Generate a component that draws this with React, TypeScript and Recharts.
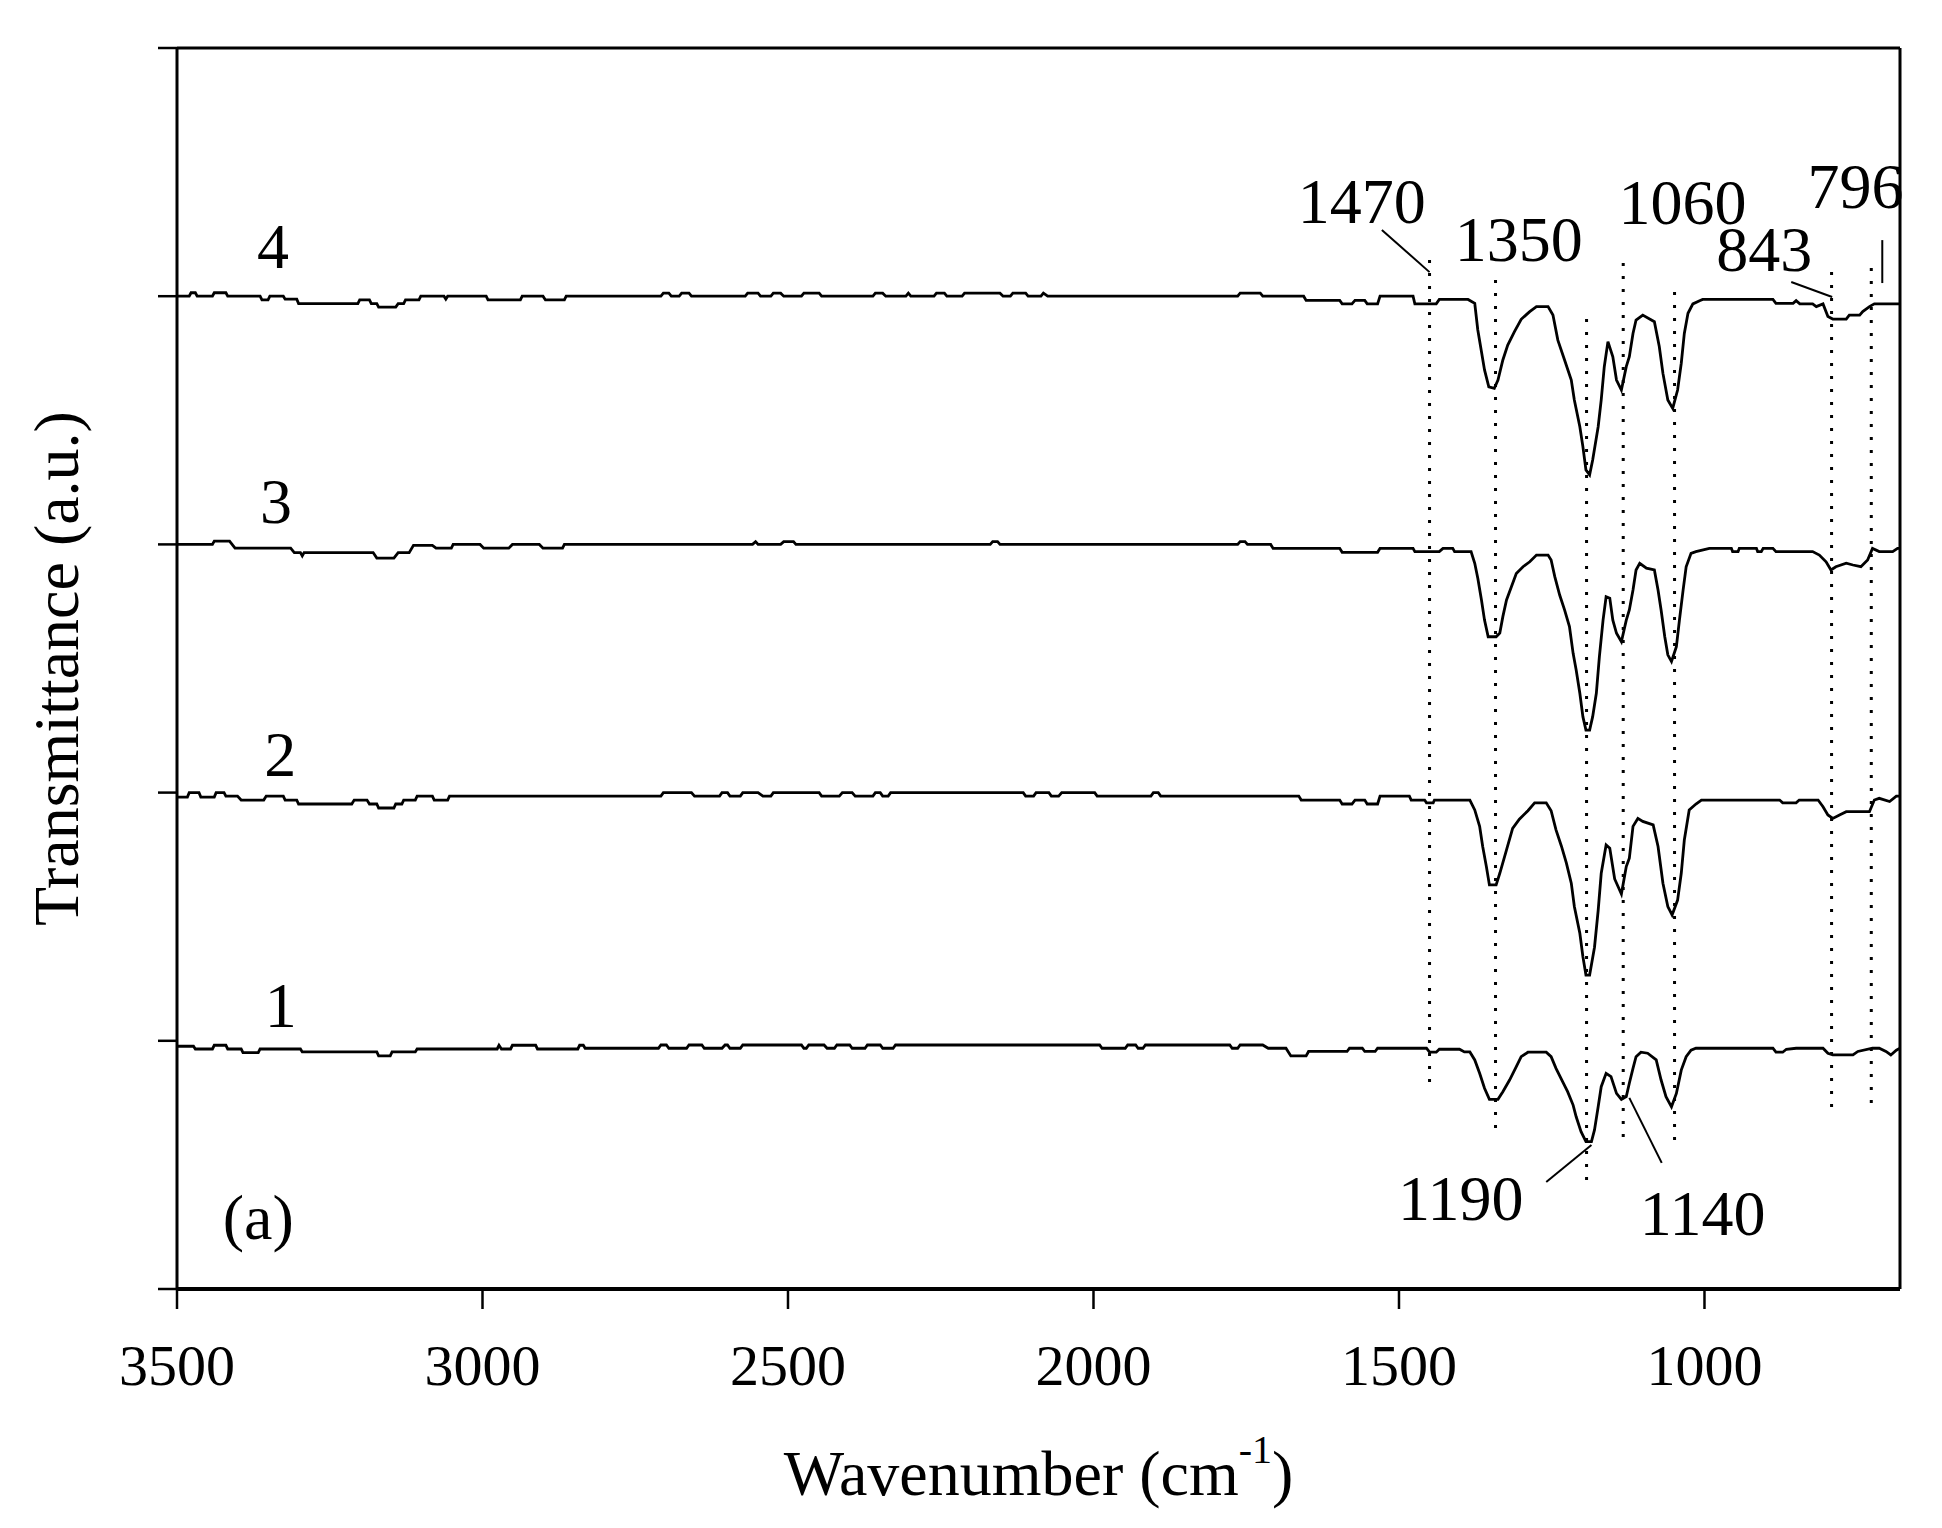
import React from 'react';
import { LineChart, Line, XAxis, YAxis, ReferenceLine, ReferenceDot } from 'recharts';

// FTIR spectra (a), four stacked traces
const FONT = '"Liberation Serif", "Times New Roman", serif';

const X_TICKS = [3500, 3000, 2500, 2000, 1500, 1000];
const Y_TICKS = [0, 1, 2, 3, 4, 5];
const X_DOMAIN = [680, 3500];

// [wavenumber, transmittance offset] pairs per trace
const CURVE_4 = [
  [3500, 4.0], [3480, 4.0], [3477, 4.014], [3470, 4.014], [3467, 4.0], [3442, 4.0], [3439, 4.014], [3420, 4.014],
  [3417, 4.0], [3364, 4.0], [3361, 3.985], [3351, 3.985], [3348, 4.0], [3326, 4.0], [3323, 3.988], [3304, 3.988],
  [3301, 3.97], [3204, 3.97], [3201, 3.985], [3185, 3.985], [3182, 3.97], [3173, 3.97], [3170, 3.956], [3142, 3.956],
  [3138, 3.97], [3129, 3.97], [3126, 3.985], [3104, 3.985], [3101, 4.0], [3063, 4.0], [3060, 3.988], [3057, 4.0],
  [2994, 4.0], [2991, 3.985], [2938, 3.985], [2935, 4.0], [2901, 4.0], [2897, 3.985], [2866, 3.985], [2863, 4.0],
  [2708, 4.0], [2704, 4.012], [2695, 4.012], [2691, 4.0], [2678, 4.0], [2674, 4.012], [2662, 4.012], [2658, 4.0],
  [2570, 4.0], [2566, 4.012], [2549, 4.012], [2545, 4.0], [2528, 4.0], [2524, 4.012], [2512, 4.012], [2507, 4.0],
  [2478, 4.0], [2474, 4.012], [2449, 4.012], [2445, 4.0], [2361, 4.0], [2357, 4.012], [2345, 4.012], [2340, 4.0],
  [2307, 4.0], [2303, 4.012], [2299, 4.0], [2261, 4.0], [2257, 4.012], [2244, 4.012], [2240, 4.0], [2215, 4.0],
  [2211, 4.012], [2153, 4.012], [2148, 4.0], [2136, 4.0], [2132, 4.012], [2111, 4.012], [2107, 4.0], [2086, 4.0],
  [2082, 4.012], [2075, 4.0], [1764, 4.0], [1760, 4.012], [1727, 4.012], [1723, 4.0], [1656, 4.0], [1652, 3.983],
  [1597, 3.983], [1593, 3.969], [1577, 3.969], [1572, 3.983], [1556, 3.983], [1552, 3.969], [1535, 3.969], [1531, 4.0],
  [1477, 4.0], [1474, 3.969], [1439, 3.969], [1434, 3.987], [1387, 3.987], [1376, 3.971], [1371, 3.864], [1365, 3.776],
  [1360, 3.703], [1353, 3.635], [1344, 3.629], [1338, 3.662], [1330, 3.743], [1322, 3.803], [1311, 3.857], [1300, 3.907],
  [1286, 3.938], [1275, 3.958], [1256, 3.958], [1248, 3.924], [1240, 3.823], [1229, 3.743], [1218, 3.662], [1213, 3.582],
  [1204, 3.474], [1199, 3.394], [1194, 3.3], [1188, 3.28], [1183, 3.34], [1174, 3.474], [1169, 3.582], [1164, 3.716],
  [1158, 3.817], [1150, 3.756], [1144, 3.662], [1136, 3.622], [1128, 3.716], [1123, 3.756], [1117, 3.85], [1112, 3.904],
  [1101, 3.924], [1082, 3.897], [1074, 3.797], [1068, 3.689], [1060, 3.582], [1052, 3.548], [1044, 3.622], [1038, 3.73],
  [1033, 3.85], [1027, 3.931], [1019, 3.969], [1008, 3.982], [1003, 3.987], [888, 3.987], [883, 3.971], [855, 3.971],
  [850, 3.982], [844, 3.969], [823, 3.969], [817, 3.958], [806, 3.969], [798, 3.918], [790, 3.908], [768, 3.908],
  [763, 3.924], [746, 3.924], [741, 3.938], [730, 3.958], [722, 3.969], [680, 3.969],
];

const CURVE_3 = [
  [3500, 3.0], [3442, 3.0], [3439, 3.013], [3414, 3.013], [3405, 2.985], [3314, 2.985], [3308, 2.967], [3298, 2.967],
  [3295, 2.954], [3292, 2.967], [3179, 2.967], [3173, 2.945], [3145, 2.945], [3138, 2.967], [3120, 2.967], [3113, 2.996],
  [3082, 2.996], [3076, 2.985], [3051, 2.985], [3048, 3.0], [3004, 3.0], [2998, 2.985], [2957, 2.985], [2951, 3.0],
  [2907, 3.0], [2901, 2.985], [2869, 2.985], [2866, 3.0], [2558, 3.0], [2553, 3.011], [2549, 3.0], [2512, 3.0],
  [2507, 3.011], [2491, 3.011], [2487, 3.0], [2169, 3.0], [2165, 3.011], [2157, 3.011], [2153, 3.0], [1764, 3.0],
  [1760, 3.011], [1752, 3.011], [1748, 3.0], [1710, 3.0], [1706, 2.984], [1597, 2.984], [1593, 2.968], [1535, 2.968],
  [1531, 2.984], [1477, 2.984], [1474, 2.971], [1434, 2.971], [1428, 2.984], [1412, 2.984], [1409, 2.971], [1382, 2.971],
  [1376, 2.924], [1371, 2.864], [1365, 2.776], [1360, 2.695], [1354, 2.628], [1341, 2.628], [1335, 2.643], [1330, 2.709],
  [1324, 2.776], [1316, 2.829], [1308, 2.883], [1297, 2.91], [1286, 2.93], [1275, 2.957], [1256, 2.957], [1251, 2.937],
  [1245, 2.87], [1237, 2.796], [1229, 2.736], [1221, 2.669], [1215, 2.561], [1210, 2.494], [1204, 2.4], [1199, 2.306],
  [1194, 2.252], [1188, 2.252], [1183, 2.306], [1177, 2.4], [1172, 2.548], [1166, 2.695], [1161, 2.789], [1155, 2.783],
  [1150, 2.695], [1144, 2.642], [1136, 2.608], [1128, 2.695], [1123, 2.736], [1117, 2.816], [1112, 2.897], [1106, 2.924],
  [1095, 2.904], [1082, 2.897], [1076, 2.816], [1071, 2.736], [1065, 2.628], [1060, 2.555], [1054, 2.528], [1046, 2.588],
  [1041, 2.695], [1035, 2.816], [1030, 2.91], [1022, 2.964], [1014, 2.971], [992, 2.984], [956, 2.984], [954, 2.971],
  [945, 2.971], [943, 2.984], [915, 2.984], [913, 2.971], [907, 2.971], [904, 2.984], [888, 2.984], [883, 2.971],
  [823, 2.971], [812, 2.957], [801, 2.93], [793, 2.897], [785, 2.91], [768, 2.924], [757, 2.917], [744, 2.91],
  [733, 2.937], [725, 2.984], [714, 2.971], [692, 2.971], [684, 2.984], [680, 2.984],
];

const CURVE_2 = [
  [3500, 1.982], [3483, 1.982], [3480, 2.0], [3464, 2.0], [3461, 1.982], [3439, 1.982], [3436, 2.0], [3423, 2.0],
  [3420, 1.986], [3401, 1.986], [3395, 1.97], [3358, 1.97], [3354, 1.986], [3326, 1.986], [3323, 1.97], [3304, 1.97],
  [3301, 1.954], [3214, 1.954], [3210, 1.97], [3189, 1.97], [3185, 1.954], [3173, 1.954], [3170, 1.938], [3145, 1.938],
  [3142, 1.954], [3132, 1.954], [3129, 1.97], [3110, 1.97], [3107, 1.986], [3082, 1.986], [3079, 1.97], [3057, 1.97],
  [3054, 1.986], [2708, 1.986], [2704, 2.0], [2658, 2.0], [2653, 1.986], [2612, 1.986], [2608, 2.0], [2599, 2.0],
  [2595, 1.986], [2578, 1.986], [2574, 2.0], [2549, 2.0], [2541, 1.986], [2528, 1.986], [2524, 2.0], [2449, 2.0],
  [2445, 1.986], [2416, 1.986], [2411, 2.0], [2395, 2.0], [2390, 1.986], [2361, 1.986], [2357, 2.0], [2349, 2.0],
  [2345, 1.986], [2336, 1.986], [2332, 2.0], [2115, 2.0], [2111, 1.986], [2098, 1.986], [2094, 2.0], [2073, 2.0],
  [2069, 1.986], [2057, 1.986], [2052, 2.0], [1998, 2.0], [1994, 1.986], [1906, 1.986], [1902, 2.0], [1894, 2.0],
  [1890, 1.986], [1664, 1.986], [1660, 1.97], [1597, 1.97], [1593, 1.954], [1577, 1.954], [1572, 1.97], [1556, 1.97],
  [1552, 1.954], [1535, 1.954], [1531, 1.986], [1483, 1.986], [1480, 1.97], [1458, 1.97], [1455, 1.959], [1444, 1.959],
  [1442, 1.97], [1384, 1.97], [1376, 1.93], [1368, 1.864], [1363, 1.783], [1357, 1.702], [1352, 1.628], [1341, 1.628],
  [1335, 1.675], [1324, 1.769], [1314, 1.856], [1303, 1.893], [1289, 1.927], [1278, 1.959], [1259, 1.959], [1251, 1.927],
  [1243, 1.85], [1234, 1.783], [1226, 1.716], [1218, 1.635], [1213, 1.541], [1204, 1.433], [1199, 1.339], [1194, 1.265],
  [1188, 1.265], [1180, 1.377], [1174, 1.525], [1169, 1.675], [1161, 1.789], [1155, 1.776], [1147, 1.652], [1136, 1.591],
  [1128, 1.702], [1123, 1.736], [1117, 1.864], [1109, 1.896], [1101, 1.884], [1084, 1.87], [1076, 1.783], [1068, 1.635],
  [1060, 1.541], [1053, 1.507], [1044, 1.567], [1038, 1.675], [1033, 1.809], [1025, 1.93], [1014, 1.954], [1005, 1.97],
  [877, 1.97], [872, 1.959], [850, 1.959], [845, 1.97], [814, 1.97], [806, 1.943], [798, 1.91], [790, 1.896],
  [779, 1.91], [768, 1.923], [730, 1.923], [722, 1.97], [714, 1.977], [697, 1.964], [686, 1.986], [680, 1.986],
];

const CURVE_1 = [
  [3500, 0.978], [3473, 0.978], [3470, 0.967], [3442, 0.967], [3439, 0.982], [3420, 0.982], [3417, 0.967], [3395, 0.967],
  [3392, 0.952], [3367, 0.952], [3364, 0.967], [3298, 0.967], [3295, 0.955], [3173, 0.955], [3170, 0.939], [3151, 0.939],
  [3148, 0.955], [3110, 0.955], [3107, 0.967], [2976, 0.967], [2973, 0.982], [2969, 0.967], [2954, 0.967], [2951, 0.982],
  [2913, 0.982], [2910, 0.967], [2844, 0.967], [2841, 0.982], [2835, 0.982], [2832, 0.97], [2712, 0.97], [2708, 0.983],
  [2699, 0.983], [2695, 0.97], [2666, 0.97], [2662, 0.983], [2641, 0.983], [2637, 0.97], [2608, 0.97], [2603, 0.983],
  [2599, 0.983], [2595, 0.97], [2578, 0.97], [2574, 0.983], [2478, 0.983], [2474, 0.97], [2470, 0.97], [2466, 0.983],
  [2441, 0.983], [2436, 0.97], [2424, 0.97], [2420, 0.983], [2399, 0.983], [2395, 0.97], [2374, 0.97], [2370, 0.983],
  [2349, 0.983], [2345, 0.97], [2328, 0.97], [2324, 0.983], [1990, 0.983], [1986, 0.97], [1948, 0.97], [1944, 0.983],
  [1931, 0.983], [1927, 0.97], [1919, 0.97], [1915, 0.983], [1777, 0.983], [1773, 0.97], [1764, 0.97], [1760, 0.983],
  [1723, 0.983], [1714, 0.97], [1685, 0.97], [1677, 0.939], [1652, 0.939], [1648, 0.957], [1585, 0.957], [1581, 0.97],
  [1560, 0.97], [1556, 0.957], [1539, 0.957], [1535, 0.97], [1455, 0.97], [1450, 0.954], [1439, 0.954], [1434, 0.966],
  [1401, 0.966], [1393, 0.955], [1384, 0.955], [1376, 0.923], [1368, 0.869], [1360, 0.809], [1352, 0.764], [1338, 0.764],
  [1330, 0.795], [1319, 0.842], [1308, 0.896], [1300, 0.936], [1289, 0.954], [1259, 0.954], [1251, 0.936], [1243, 0.889],
  [1232, 0.835], [1224, 0.795], [1215, 0.741], [1210, 0.694], [1202, 0.634], [1194, 0.594], [1185, 0.594], [1180, 0.641],
  [1174, 0.734], [1169, 0.815], [1161, 0.869], [1153, 0.856], [1144, 0.788], [1136, 0.764], [1128, 0.775], [1123, 0.829],
  [1117, 0.889], [1112, 0.936], [1104, 0.954], [1093, 0.95], [1079, 0.923], [1071, 0.842], [1063, 0.775], [1054, 0.734],
  [1046, 0.788], [1038, 0.882], [1030, 0.936], [1022, 0.962], [1014, 0.97], [888, 0.97], [883, 0.954], [872, 0.954],
  [866, 0.966], [850, 0.97], [806, 0.97], [798, 0.95], [790, 0.943], [757, 0.943], [749, 0.957], [725, 0.97],
  [714, 0.97], [703, 0.957], [695, 0.943], [686, 0.962], [680, 0.97],
];

// dotted guide lines: [wavenumber, lower end, upper end]
const MARKERS = [
  [1450, 0.834, 4.158], [1342, 0.649, 4.085], [1193, 0.439, 3.924], [1133, 0.612, 4.158],
  [1049, 0.6, 4.033], [792, 0.733, 4.118], [727, 0.749, 4.13],
];

// band labels and trace numbers: [text, wavenumber, y]
const PEAK_LABELS: [string, number, number][] = [
  ['1470', 1561, 4.388], ['1350', 1304, 4.234], ['1060', 1036, 4.384], ['843', 902, 4.194],
  ['796', 753, 4.448], ['1190', 1399, 0.371], ['1140', 1003, 0.31],
];
const TRACE_LABELS: [string, number, number][] = [
  ['4', 3343, 4.206], ['3', 3338, 3.179], ['2', 3331, 2.16], ['1', 3330, 1.148], ['(a)', 3367, 0.294],
];

// short pointer lines from labels to bands
const LEADERS = [
  [[1528, 4.267], [1450, 4.097]],
  [[858, 4.057], [791, 3.997]],
  [[709, 4.226], [709, 4.053]],
  [[1259, 0.431], [1185, 0.58]],
  [[1123, 0.77], [1070, 0.508]],
];

const toPoints = (pairs: number[][]) => pairs.map(([wn, t]) => ({ wn, t }));
const TRACES = [CURVE_1, CURVE_2, CURVE_3, CURVE_4].map(toPoints);

const XTitle = ({ viewBox }: any) => (
  <text
    x={viewBox.x + viewBox.width / 2}
    y={viewBox.y + 206}
    textAnchor="middle"
    fontFamily={FONT}
    fontSize={64}
    fill="#000"
  >
    Wavenumber (cm
    <tspan dy={-32} fontSize={40}>-1</tspan>
    <tspan dy={32}>)</tspan>
  </text>
);

const YTitle = ({ viewBox }: any) => {
  const x = viewBox.x + 78;
  const y = viewBox.y + viewBox.height / 2;
  return (
    <text
      x={x}
      y={y}
      transform={`rotate(-90, ${x}, ${y})`}
      textAnchor="middle"
      fontFamily={FONT}
      fontSize={64}
      fill="#000"
    >
      Transmittance (a.u.)
    </text>
  );
};

const textLabel = (value: string, size: number) => ({
  value,
  position: 'center' as const,
  fontSize: size,
  fontFamily: FONT,
  fill: '#000',
});

export default function App() {
  return (
    <div style={{ position: 'absolute', left: 0, top: 0, background: '#fff' }}>
      <LineChart
        width={1942}
        height={1528}
        margin={{ top: 48, right: 42, left: 0, bottom: 0 }}
      >
        <XAxis
          dataKey="wn"
          type="number"
          domain={X_DOMAIN}
          reversed
          allowDataOverflow
          ticks={X_TICKS}
          height={239}
          tickSize={20}
          tickMargin={35}
          axisLine={{ stroke: '#000', strokeWidth: 4 }}
          tickLine={{ stroke: '#000', strokeWidth: 2.5 }}
          tick={{ fontSize: 58, fontFamily: FONT, fill: '#000' }}
          label={<XTitle />}
        />
        <YAxis
          type="number"
          domain={[0, 5]}
          ticks={Y_TICKS}
          width={177}
          tickSize={19}
          tickFormatter={() => ''}
          axisLine={{ stroke: '#000', strokeWidth: 3 }}
          tickLine={{ stroke: '#000', strokeWidth: 2.5 }}
          label={<YTitle />}
        />

        {/* frame: top and right borders */}
        <ReferenceLine y={5} stroke="#000" strokeWidth={3} ifOverflow="visible" />
        <ReferenceLine x={680} stroke="#000" strokeWidth={3} ifOverflow="visible" />

        {MARKERS.map(([wn, lo, hi], i) => (
          <ReferenceLine
            key={`m${i}`}
            segment={[{ x: wn, y: lo }, { x: wn, y: hi }]}
            stroke="#000"
            strokeWidth={3}
            strokeDasharray="3 10"
            ifOverflow="visible"
          />
        ))}

        {LEADERS.map(([a, b], i) => (
          <ReferenceLine
            key={`l${i}`}
            segment={[{ x: a[0], y: a[1] }, { x: b[0], y: b[1] }]}
            stroke="#000"
            strokeWidth={2}
            ifOverflow="visible"
          />
        ))}

        {TRACES.map((data, i) => (
          <Line
            key={`c${i}`}
            data={data}
            dataKey="t"
            type="linear"
            stroke="#000"
            strokeWidth={2.8}
            dot={false}
            activeDot={false}
            isAnimationActive={false}
          />
        ))}

        {PEAK_LABELS.concat(TRACE_LABELS).map(([text, wn, t]) => (
          <ReferenceDot
            key={`t${text}`}
            x={wn}
            y={t}
            r={0}
            fill="none"
            stroke="none"
            ifOverflow="visible"
            label={textLabel(text, 64)}
          />
        ))}
      </LineChart>
    </div>
  );
}
